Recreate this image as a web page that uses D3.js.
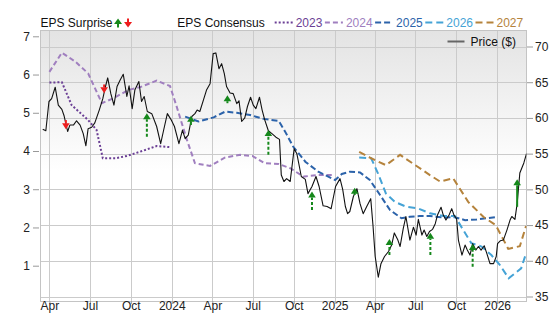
<!DOCTYPE html>
<html><head><meta charset="utf-8">
<script src="https://cdn.jsdelivr.net/npm/d3@7"></script>
<style>body{margin:0;background:#fff}svg{display:block;font-family:"Liberation Sans",Arial,sans-serif}</style>
</head><body><svg id="c" width="556" height="315"></svg>
<script>
// ---------- data ----------
const leftTicks = [1, 2, 3, 4, 5, 6, 7];
const rightTicks = [35, 40, 45, 50, 55, 60, 65, 70];
const xTickDates = ["2023-04-01","2023-07-01","2023-10-01","2024-01-01","2024-04-01","2024-07-01","2024-10-01","2025-01-01","2025-04-01","2025-07-01","2025-10-01","2026-01-01"];
const xTickLabels = ["Apr","Jul","Oct","2024","Apr","Jul","Oct","2025","Apr","Jul","Oct","2026"];
const seriesNames = ["2023","2024","2025","2026","2027"];

const price = [
["2023-03-17",58.4],["2023-03-24",58.2],["2023-03-31",62.3],["2023-04-06",62.7],["2023-04-14",64.3],["2023-04-21",61.8],
["2023-04-29",61.2],["2023-05-04",60.3],["2023-05-12",58.1],["2023-05-17",59.0],["2023-05-25",59.0],["2023-06-01",59.6],
["2023-06-09",59.0],["2023-06-16",57.8],["2023-06-22",56.1],["2023-06-27",58.5],["2023-07-05",58.7],["2023-07-12",59.3],
["2023-07-22",61.1],["2023-07-30",62.7],["2023-08-05",64.4],["2023-08-10",65.6],["2023-08-17",63.4],["2023-08-24",61.8],
["2023-08-31",64.4],["2023-09-07",65.3],["2023-09-14",66.1],["2023-09-22",63.0],["2023-09-27",64.5],["2023-10-04",61.3],
["2023-10-10",63.9],["2023-10-19",65.1],["2023-10-25",62.3],["2023-10-31",63.0],["2023-11-07",60.9],["2023-11-17",60.6],
["2023-11-28",58.8],["2023-12-07",56.4],["2023-12-13",58.1],["2023-12-22",60.6],["2023-12-30",59.8],["2024-01-07",58.8],
["2024-01-17",56.4],["2024-01-25",58.3],["2024-01-31",57.1],["2024-02-07",57.6],["2024-02-15",60.2],["2024-02-22",60.6],
["2024-02-27",61.1],["2024-03-04",60.9],["2024-03-12",62.5],["2024-03-19",63.9],["2024-03-27",64.8],["2024-04-03",69.0],
["2024-04-09",69.1],["2024-04-16",66.9],["2024-04-22",67.6],["2024-04-28",66.2],["2024-05-03",64.4],["2024-05-11",63.5],
["2024-05-18",63.4],["2024-05-26",62.0],["2024-05-31",62.4],["2024-06-06",59.5],["2024-06-13",60.0],["2024-06-19",61.6],
["2024-06-26",62.9],["2024-07-02",61.8],["2024-07-08",61.3],["2024-07-16",62.9],["2024-07-22",61.1],["2024-07-28",59.7],
["2024-08-05",58.2],["2024-08-13",57.8],["2024-08-22",57.3],["2024-08-30",57.0],["2024-09-03",52.0],["2024-09-09",51.1],
["2024-09-15",51.5],["2024-09-23",51.1],["2024-10-02",55.7],["2024-10-08",55.0],["2024-10-18",51.8],["2024-10-27",51.4],
["2024-11-02",49.4],["2024-11-11",50.4],["2024-11-20",51.8],["2024-11-27",50.4],["2024-12-06",47.7],["2024-12-15",47.6],
["2024-12-24",47.3],["2025-01-03",50.4],["2025-01-13",51.5],["2025-01-19",50.0],["2025-01-25",47.6],["2025-01-30",46.6],
["2025-02-04",46.9],["2025-02-12",49.0],["2025-02-20",50.1],["2025-02-27",48.0],["2025-03-06",46.6],["2025-03-14",47.6],
["2025-03-23",48.7],["2025-03-28",45.0],["2025-04-02",40.6],["2025-04-09",37.7],["2025-04-15",39.6],["2025-04-23",40.6],
["2025-05-02",41.3],["2025-05-09",42.2],["2025-05-15",43.9],["2025-05-23",42.9],["2025-05-28",42.0],["2025-06-04",44.5],
["2025-06-10",46.2],["2025-06-19",42.9],["2025-06-27",44.7],["2025-07-03",43.6],["2025-07-08",45.8],["2025-07-16",43.6],
["2025-07-21",44.3],["2025-07-27",43.4],["2025-08-02",44.1],["2025-08-09",44.4],["2025-08-15",45.2],["2025-08-20",46.4],
["2025-08-28",47.5],["2025-09-02",46.4],["2025-09-08",45.7],["2025-09-15",46.4],["2025-09-21",47.3],["2025-09-26",46.4],
["2025-10-02",45.9],["2025-10-06",42.9],["2025-10-14",40.8],["2025-10-21",42.2],["2025-10-26",41.5],["2025-11-01",40.8],
["2025-11-07",42.4],["2025-11-14",41.5],["2025-11-20",42.0],["2025-11-26",41.5],["2025-12-03",42.1],["2025-12-09",41.0],
["2025-12-16",39.6],["2025-12-24",39.6],["2025-12-30",40.6],["2026-01-02",42.4],["2026-01-08",42.8],["2026-01-15",42.9],
["2026-01-23",44.3],["2026-01-30",45.7],["2026-02-03",46.2],["2026-02-10",45.8],["2026-02-15",48.0],["2026-02-21",52.3],
["2026-03-02",53.7],["2026-03-08",55.0]
];

const eps2023 = [["2023-04-01",5.79],["2023-04-29",5.80],["2023-05-21",5.20],["2023-06-27",4.81],["2023-07-16",4.55],
["2023-07-30",3.81],["2023-08-27",3.81],["2023-09-22",3.87],["2023-10-29",4.01],["2023-11-28",4.13],["2023-12-28",4.10]];

const eps2024 = [["2023-04-01",6.07],["2023-04-29",6.57],["2023-05-29",6.34],["2023-06-27",6.03],["2023-07-28",5.25],
["2023-08-23",5.38],["2023-09-26",5.60],["2023-10-22",5.67],["2023-11-28",5.84],["2023-12-28",5.70],["2024-01-12",5.16],
["2024-02-04",4.29],["2024-02-22",3.68],["2024-03-27",3.61],["2024-04-30",3.83],["2024-06-03",3.90],["2024-06-30",3.87],
["2024-07-28",3.68],["2024-08-28",3.66],["2024-09-23",3.55],["2024-10-23",3.33],["2024-11-22",3.37],["2024-12-26",3.37]];

const eps2025 = [["2024-01-31",4.90],["2024-03-01",4.77],["2024-04-04",4.88],["2024-04-30",5.03],["2024-05-26",5.00],
["2024-06-25",4.94],["2024-07-25",4.84],["2024-08-28",4.79],["2024-09-12",4.50],["2024-09-30",4.11],["2024-10-27",3.72],
["2024-11-25",3.46],["2025-01-02",3.24],["2025-01-17",3.40],["2025-02-04",3.46],["2025-02-27",3.44],["2025-03-21",3.24],
["2025-04-13",2.85],["2025-05-05",2.46],["2025-05-31",2.24],["2025-06-19",2.28],["2025-07-11",2.30],["2025-08-03",2.30],
["2025-09-02",2.26],["2025-09-28",2.27],["2025-10-21",2.19],["2025-11-16",2.21],["2025-12-08",2.24],["2025-12-29",2.27]];

const eps2026 = [["2025-02-25",3.83],["2025-03-24",3.81],["2025-04-08",3.42],["2025-04-26",2.89],["2025-05-16",2.67],
["2025-06-11",2.54],["2025-07-07",2.50],["2025-08-03",2.37],["2025-09-02",2.30],["2025-09-28",2.30],["2025-10-17",1.93],
["2025-11-04",1.59],["2025-11-27",1.50],["2025-12-19",1.28],["2026-01-07",1.02],["2026-01-27",0.67],["2026-02-24",0.93],
["2026-03-07",1.32]];

const eps2027 = [["2025-02-25",3.98],["2025-03-24",3.81],["2025-04-26",3.63],["2025-05-28",3.90],["2025-07-01",3.63],
["2025-08-03",3.37],["2025-08-26",3.20],["2025-09-24",3.29],["2025-10-28",2.67],["2025-12-01",2.28],["2025-12-29",2.06],
["2026-01-26",1.44],["2026-02-21",1.51],["2026-03-07",2.04]];

// [date, consensus (tail), actual (head)]
const surprises = [
["2023-05-08",4.81,4.57],["2023-08-02",5.74,5.51],["2023-11-06",4.37,4.99],["2024-02-13",4.68,4.92],
["2024-05-05",5.25,5.46],["2024-08-05",3.90,4.55],["2024-11-11",2.46,2.94],["2025-02-15",2.85,3.04],
["2025-05-04",1.28,1.70],["2025-08-04",1.28,1.86],["2025-11-07",0.97,1.57],["2026-02-15",2.54,3.26]
];

// ---------- chart ----------
const parse = d3.utcParse("%Y-%m-%d");
const svg = d3.select("#c");
const L = 40.5, R = 526.5, T = 30, B = 301;

const x = d3.scaleUtc().domain([parse("2023-03-12"), parse("2026-03-08")]).range([L, R]);
const yL = d3.scaleLinear().domain([1, 7]).range([265.7, 36.3]);
const yR = d3.scaleLinear().domain([35, 70]).range([296.5, 46.5]);

const colors = {"2023":"#6b3f95","2024":"#a07fbf","2025":"#2c63aa","2026":"#45a3d6","2027":"#b5833c"};
const dashes = {"2023":"2,2","2024":"5,3","2025":"6,3","2026":"7,4","2027":"7,4"};
const epsData = {"2023":eps2023,"2024":eps2024,"2025":eps2025,"2026":eps2026,"2027":eps2027};

const defs = svg.append("defs");
const grad = defs.append("linearGradient").attr("id","bg").attr("x1",0).attr("y1",0).attr("x2",0).attr("y2",1);
grad.append("stop").attr("offset","0%").attr("stop-color","#e3e3e3");
grad.append("stop").attr("offset","52%").attr("stop-color","#ffffff");
grad.append("stop").attr("offset","100%").attr("stop-color","#ffffff");
defs.append("clipPath").attr("id","clip").append("rect").attr("x",L).attr("y",T).attr("width",R-L).attr("height",B-T);

svg.append("rect").attr("x",L).attr("y",T).attr("width",R-L).attr("height",B-T).attr("fill","url(#bg)");

// gridlines
const grid = svg.append("g").attr("stroke","#cbcbcb").attr("stroke-width",1);
grid.selectAll(".v").data(xTickDates).join("line")
  .attr("x1",d=>Math.round(x(parse(d)))+0.5).attr("x2",d=>Math.round(x(parse(d)))+0.5)
  .attr("y1",T).attr("y2",B);
grid.selectAll(".h").data(rightTicks).join("line")
  .attr("x1",L).attr("x2",R)
  .attr("y1",d=>Math.round(yR(d))+0.5).attr("y2",d=>Math.round(yR(d))+0.5);

svg.append("rect").attr("x",L).attr("y",T+0.5).attr("width",R-L).attr("height",B-T)
  .attr("fill","none").attr("stroke","#c4c4c4");

// axes
function styleAxis(g){
  g.select(".domain").remove();
  g.selectAll(".tick line").attr("stroke","#999");
  g.selectAll(".tick text").attr("fill","#222").style("font-size","12px").style("font-family",'"Liberation Sans",Arial,sans-serif');
}
svg.append("g").attr("transform","translate(39,0)")
  .call(d3.axisLeft(yL).tickValues(leftTicks).tickSize(6).tickPadding(3).tickFormat(d3.format("d")))
  .call(styleAxis);
svg.append("g").attr("transform",`translate(${R+0.5},0)`)
  .call(d3.axisRight(yR).tickValues(rightTicks).tickSize(6).tickPadding(2).tickFormat(d3.format("d")))
  .call(styleAxis);
svg.append("g").attr("transform",`translate(0,${B})`)
  .call(d3.axisBottom(x).tickValues(xTickDates.map(parse)).tickSize(3).tickPadding(1)
    .tickFormat((d,i)=>xTickLabels[i]))
  .call(styleAxis)
  .call(g=>g.selectAll(".tick text").attr("y",0.5));

// lines
const plot = svg.append("g").attr("clip-path","url(#clip)");
const lineL = d3.line().x(d=>x(parse(d[0]))).y(d=>yL(d[1]));
const lineR = d3.line().x(d=>x(parse(d[0]))).y(d=>yR(d[1]));

seriesNames.forEach(s=>{
  plot.append("path").datum(epsData[s]).attr("d",lineL)
    .attr("fill","none").attr("stroke",colors[s]).attr("stroke-width",2)
    .attr("stroke-dasharray",dashes[s]);
});
plot.append("path").datum(price).attr("d",lineR)
  .attr("fill","none").attr("stroke","#111").attr("stroke-width",1.1).attr("stroke-linejoin","round");

// surprise arrows
const GREEN = "#15881b", RED = "#ee1c1c";
function arrow(g, cx, yTail, yTip, color, dashed, hw=3.8, hh=6){
  const up = yTip < yTail;
  const yBase = up ? yTip + hh : yTip - hh;
  g.append("line").attr("x1",cx).attr("x2",cx).attr("y1",yTail).attr("y2",yBase)
    .attr("stroke",color).attr("stroke-width",2).attr("stroke-dasharray",dashed?"3,2":null);
  g.append("path").attr("d",`M${cx-hw},${yBase}L${cx+hw},${yBase}L${cx},${yTip}Z`).attr("fill",color);
}
const arrowsG = svg.append("g");
surprises.forEach((s,i)=>{
  const beat = s[2] > s[1];
  const last = i === surprises.length-1;
  arrow(arrowsG, x(parse(s[0])), yL(s[1]), yL(s[2]), beat?GREEN:RED, beat && !last);
});

// legend
const lg = svg.append("g").style("font-size","12px");
const t1 = lg.append("text").attr("x",L).attr("y",27).attr("fill","#111").text("EPS Surprise");
let lx = L + t1.node().getComputedTextLength();
arrow(lg, lx+5.5, 27.5, 18.5, GREEN, false, 4, 5.5);
arrow(lg, lx+15.5, 18.5, 27.5, RED, false, 4, 5.5);
const t2 = lg.append("text").attr("x",177.3).attr("y",27).attr("fill","#111").text("EPS Consensus");
lx = 177.3 + t2.node().getComputedTextLength() + 10;
seriesNames.forEach(s=>{
  lg.append("line").attr("x1",lx).attr("x2",lx+18).attr("y1",22.5).attr("y2",22.5)
    .attr("stroke",colors[s]).attr("stroke-width",2).attr("stroke-dasharray",dashes[s]);
  lx += 21;
  const t = lg.append("text").attr("x",lx).attr("y",27).attr("fill",colors[s]).text(s);
  lx += t.node().getComputedTextLength() + 2.5;
});
lg.append("line").attr("x1",447.5).attr("x2",464.5).attr("y1",41.5).attr("y2",41.5)
  .attr("stroke","#666").attr("stroke-width",2);
lg.append("text").attr("x",470.6).attr("y",46).attr("fill","#111").text("Price ($)");
</script></body></html>
